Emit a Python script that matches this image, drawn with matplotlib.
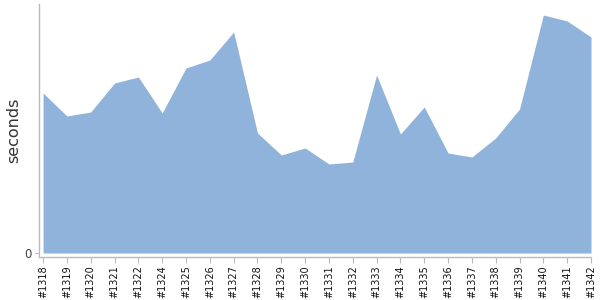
import matplotlib
matplotlib.use("Agg")
import matplotlib.pyplot as plt

builds = ["#1318", "#1319", "#1320", "#1321", "#1322", "#1324", "#1325", "#1326",
          "#1327", "#1328", "#1329", "#1330", "#1331", "#1332", "#1333", "#1334",
          "#1335", "#1336", "#1337", "#1338", "#1339", "#1340", "#1341", "#1342"]
seconds = [160, 137, 141, 170, 176, 140, 185, 193, 221, 120, 98, 105,
           89, 91, 178, 119, 146, 100, 96, 115, 144, 238, 232, 216]

fig = plt.figure(figsize=(6, 3), dpi=100)
ax = fig.add_axes([39.5 / 600, 43 / 300, (591 - 39.5) / 600, (257 - 4) / 300])

x = list(range(len(builds)))
ax.fill_between(x, seconds, 0, color="#8fb3db", lw=0)

ax.set_xlim(-0.15, len(builds) - 1)
ax.set_ylim(-4, 249)
ax.set_xticks(x)
ax.set_xticklabels(builds, rotation=90, fontsize=7, color="#111111")
ax.set_yticks([0])
ax.set_yticklabels(["0"], fontsize=8.5, color="#444444")
ax.set_ylabel("seconds", fontsize=11.5, color="#333333", labelpad=2)

for side in ("top", "right"):
    ax.spines[side].set_visible(False)
for side in ("left", "bottom"):
    ax.spines[side].set_color("#bbbbbb")
    ax.spines[side].set_linewidth(1)
ax.tick_params(axis="x", length=4, color="#bbbbbb", pad=2)
ax.tick_params(axis="y", length=3, color="#bbbbbb", pad=3)

fig.savefig("out.png", dpi=100)
